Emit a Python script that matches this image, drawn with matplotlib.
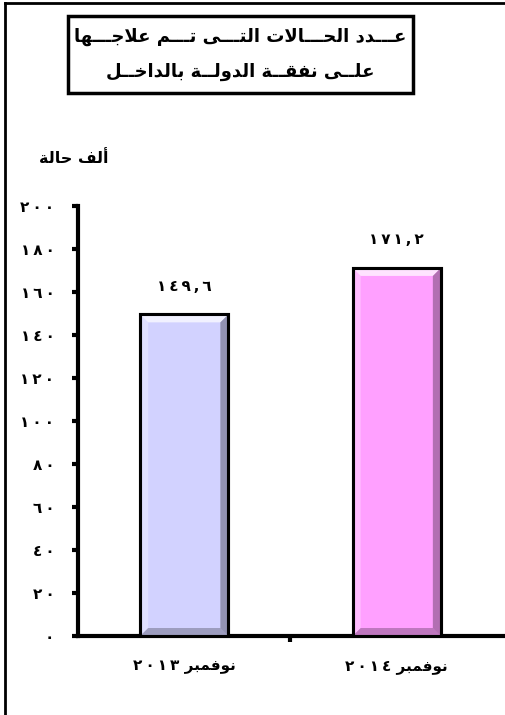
import matplotlib
matplotlib.use("Agg")
import matplotlib.pyplot as plt
from matplotlib.patches import Polygon, Rectangle
from matplotlib.lines import Line2D

# ---------------- data ----------------
months = ["نوفمبر", "نوفمبر"]
years = ["٢٠١٣", "٢٠١٤"]
values = [149.6, 171.2]
bar_colors = ["#D2D2FF", "#FFA0FF"]
yticks = [0, 20, 40, 60, 80, 100, 120, 140, 160, 180, 200]
title_lines = ["عـــدد الحـــالات التـــى تـــم علاجـــها", "علــى نفقــة الدولــة بالداخــل"]
unit_label = "ألف حالة"

# ---------------- minimal Arabic shaping ----------------
FORMS = {
    'ا': (0xFE8D, 0xFE8E, None, None),
    'أ': (0xFE83, 0xFE84, None, None),
    'ب': (0xFE8F, 0xFE90, 0xFE91, 0xFE92),
    'ة': (0xFE93, 0xFE94, None, None),
    'ت': (0xFE95, 0xFE96, 0xFE97, 0xFE98),
    'ج': (0xFE9D, 0xFE9E, 0xFE9F, 0xFEA0),
    'ح': (0xFEA1, 0xFEA2, 0xFEA3, 0xFEA4),
    'خ': (0xFEA5, 0xFEA6, 0xFEA7, 0xFEA8),
    'د': (0xFEA9, 0xFEAA, None, None),
    'ر': (0xFEAD, 0xFEAE, None, None),
    'ع': (0xFEC9, 0xFECA, 0xFECB, 0xFECC),
    'ف': (0xFED1, 0xFED2, 0xFED3, 0xFED4),
    'ق': (0xFED5, 0xFED6, 0xFED7, 0xFED8),
    'ل': (0xFEDD, 0xFEDE, 0xFEDF, 0xFEE0),
    'م': (0xFEE1, 0xFEE2, 0xFEE3, 0xFEE4),
    'ن': (0xFEE5, 0xFEE6, 0xFEE7, 0xFEE8),
    'ه': (0xFEE9, 0xFEEA, 0xFEEB, 0xFEEC),
    'و': (0xFEED, 0xFEEE, None, None),
    'ى': (0xFEEF, 0xFEF0, None, None),
}
TATWEEL = 'ـ'
LAMALEF = {'ا': (0xFEFB, 0xFEFC), 'أ': (0xFEF7, 0xFEF8)}


def _dual(c):
    return c == TATWEEL or (c in FORMS and FORMS[c][2] is not None)


def _joins(c):
    return c == TATWEEL or c in FORMS


def shape(s):
    out = []
    i, n = 0, len(s)
    while i < n:
        c = s[i]
        jp = i > 0 and _dual(s[i - 1]) and _joins(c)
        if c == 'ل' and i + 1 < n and s[i + 1] in LAMALEF:
            lig = LAMALEF[s[i + 1]]
            out.append(chr(lig[1] if jp else lig[0]))
            i += 2
            continue
        if c in FORMS:
            nxt = s[i + 1] if i + 1 < n else ''
            jn = bool(nxt) and _dual(c) and _joins(nxt)
            f = FORMS[c]
            if jp and jn:
                ch = f[3]
            elif jp:
                ch = f[1]
            elif jn:
                ch = f[2]
            else:
                ch = f[0]
            out.append(chr(ch))
        else:
            out.append(c)
        i += 1
    return ''.join(reversed(out))


DIG = str.maketrans("0123456789.", "٠١٢٣٤٥٦٧٨٩,")
SP = "\u2009"


def arnum(v, fmt="{:g}"):
    return SP.join(fmt.format(v).translate(DIG))


# ---------------- figure ----------------
W, H = 506, 715
fig = plt.figure(figsize=(W / 100, H / 100), dpi=100)
fig.patch.set_facecolor("white")
FONT = "DejaVu Sans"

ax = fig.add_axes([78 / W, 1 - 636 / H, (503 - 78) / W, (636 - 206) / H])
ax.set_xlim(-0.5, 1.5)
ax.set_ylim(0, 200)

x = list(range(len(values)))
bw = 0.415
bars = ax.bar(x, values, width=bw, color=bar_colors, edgecolor="black",
              linewidth=2.2, zorder=3)

# bevel effect
fig.canvas.draw()
inv = ax.transData.inverted()
p0 = inv.transform((0, 0))
p1 = inv.transform((8, 8))
dx, dy = p1[0] - p0[0], p1[1] - p0[1]
for b in bars:
    x0, y0 = b.get_x(), b.get_y()
    x1, y1 = x0 + b.get_width(), y0 + b.get_height()
    faces = [
        ([(x0, y1), (x1, y1), (x1 - dx, y1 - dy), (x0 + dx, y1 - dy)], "white", 0.7),
        ([(x0, y0), (x0, y1), (x0 + dx, y1 - dy), (x0 + dx, y0 + dy)], "white", 0.3),
        ([(x1, y0), (x1, y1), (x1 - dx, y1 - dy), (x1 - dx, y0 + dy)], "black", 0.3),
        ([(x0, y0), (x1, y0), (x1 - dx, y0 + dy), (x0 + dx, y0 + dy)], "black", 0.25),
    ]
    for pts, col, al in faces:
        ax.add_patch(Polygon(pts, closed=True, facecolor=col, alpha=al,
                             edgecolor="none", zorder=3.5))
    ax.add_patch(Rectangle((x0, y0), x1 - x0, y1 - y0, facecolor="none",
                           edgecolor="black", linewidth=2.2, zorder=4))

for xi, v in zip(x, values):
    ax.annotate(arnum(v, "{:.1f}"), (xi, v), xytext=(0, 15), textcoords="offset points",
                ha="center", va="bottom", fontsize=11, fontweight="bold",
                family=FONT, color="black")

# axes styling
for s in ["top", "right"]:
    ax.spines[s].set_visible(False)
ax.spines["left"].set_linewidth(3)
ax.spines["bottom"].set_linewidth(3)
ax.set_yticks(yticks)
ax.set_yticklabels([arnum(t) for t in yticks], fontsize=11, fontweight="bold", family=FONT)
ax.tick_params(axis="y", direction="out", length=4, width=3, pad=13)
ax.set_xticks([0.5])
ax.set_xticklabels([""])
ax.tick_params(axis="x", direction="out", length=4, width=3)
for xi, m, yr in zip(x, months, years):
    ax.text(xi, -0.07, SP.join(yr) + " " + shape(m), transform=ax.get_xaxis_transform(),
            ha="center", va="center", fontsize=11, fontweight="bold", family=FONT)

# unit label
fig.text(74 / W, 1 - 158 / H, shape(unit_label), ha="center", va="center",
         fontsize=11.5, fontweight="bold", family=FONT)

# title box
fig.add_artist(Rectangle((68 / W, 1 - 93 / H), (413 - 68) / W, (93 - 16) / H,
                         transform=fig.transFigure, facecolor="white",
                         edgecolor="black", linewidth=2.5))
fig.text(240 / W, 1 - 37 / H, shape(title_lines[0]), ha="center", va="center",
         fontsize=13, fontweight="bold", family=FONT)
fig.text(240 / W, 1 - 72 / H, shape(title_lines[1]), ha="center", va="center",
         fontsize=13, fontweight="bold", family=FONT)

# figure border (top and left)
fig.add_artist(Line2D([5 / W, 1], [1 - 3 / H, 1 - 3 / H], transform=fig.transFigure,
                      color="black", linewidth=2))
fig.add_artist(Line2D([5 / W, 5 / W], [1 - 3 / H, 0], transform=fig.transFigure,
                      color="black", linewidth=2))

fig.savefig("out.png", dpi=100)
